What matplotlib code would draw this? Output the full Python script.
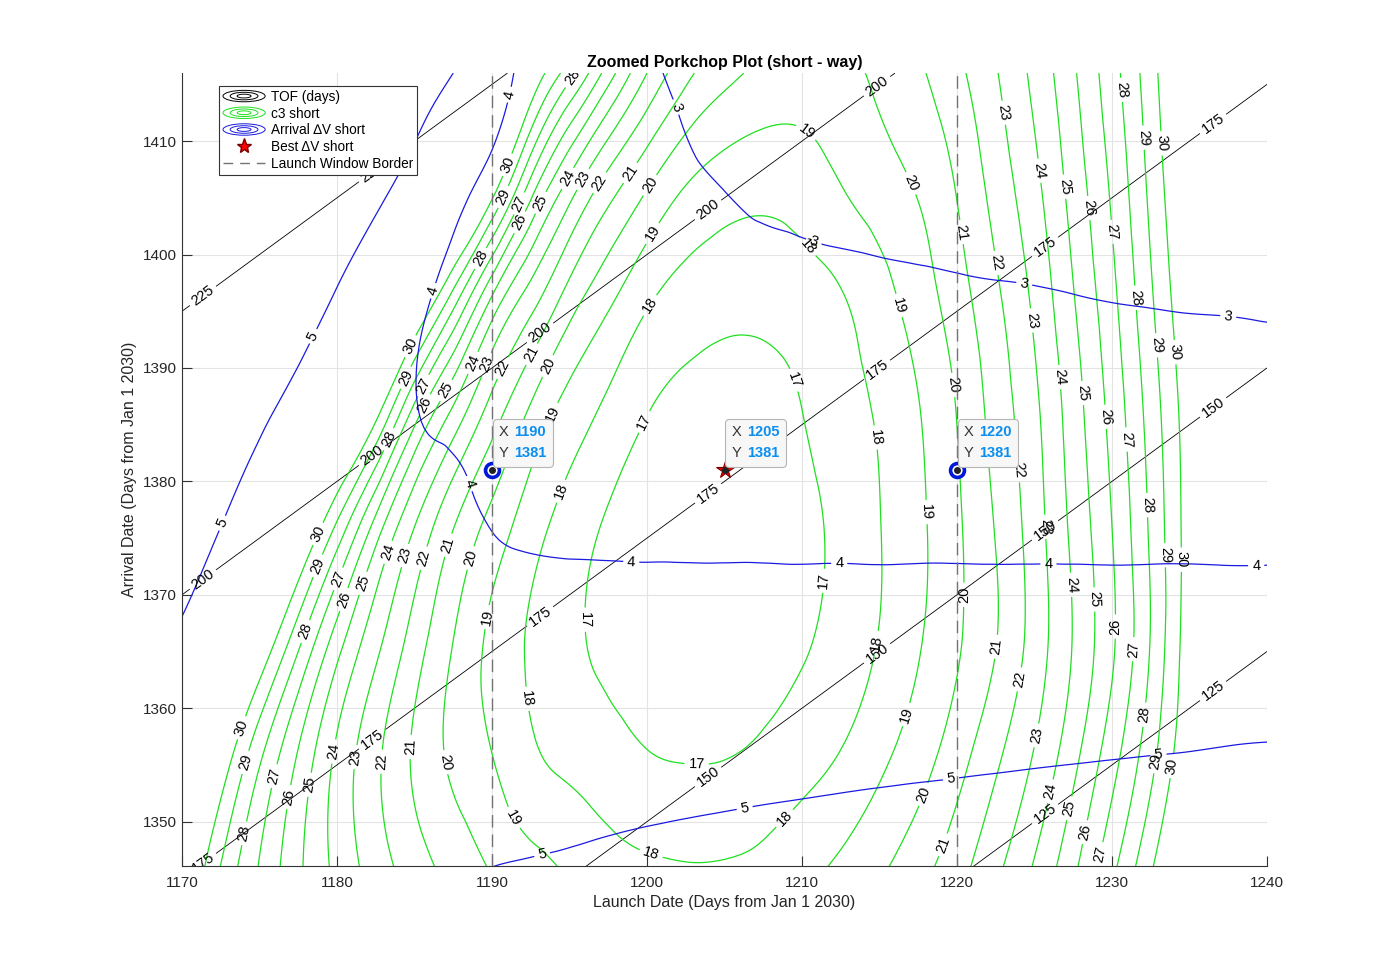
import numpy as np
import matplotlib as mpl
import matplotlib.pyplot as plt
import matplotlib.tri as mtri
from matplotlib.legend_handler import HandlerBase
from matplotlib.lines import Line2D
from matplotlib.patches import Ellipse
from matplotlib.offsetbox import TextArea, HPacker, VPacker, AnnotationBbox

mpl.rcParams['font.family'] = ['Liberation Sans', 'DejaVu Sans']

# grid nodes (days from Jan 1 2030)
launch_nodes = [1170, 1172.5, 1175, 1177.5, 1180, 1182.5, 1185, 1187.5, 1190,
                1192.5, 1195, 1197.5, 1200, 1202.5, 1205, 1207.5, 1210, 1212.5,
                1215, 1217.5, 1220, 1222.5, 1225, 1227.5, 1230, 1232.5, 1235,
                1237.5, 1240]
arrival_nodes = [1346, 1356, 1366, 1376, 1386, 1396, 1406, 1416]

# c3 (km^2/s^2), one list per arrival day
c3_1346 = [31.5, 28.96, 26.93, 25.2, 23.74, 22.5, 21.48, 20.63, 19.9, 19.36, 18.85, 18.43, 18.17, 18.06, 18.09,
           18.27, 18.65, 19.22, 19.83, 20.63, 21.59, 22.77, 24.1, 25.77, 27.75, 29.86, 32.1, 34.4, 36.6]
c3_1356 = [33.35, 30.85, 28.24, 25.93, 23.82, 22.23, 20.86, 19.79, 19.0, 18.16, 17.72, 17.37, 17.03, 16.92, 16.95,
           17.19, 17.61, 18.03, 18.74, 19.53, 20.55, 21.78, 23.06, 24.67, 26.57, 28.65, 30.95, 33.2, 35.4]
c3_1366 = [36.1, 33.6, 31.1, 28.31, 25.5, 23.32, 21.55, 20.0, 18.76, 17.88, 17.22, 16.76, 16.48, 16.35, 16.37,
           16.54, 16.86, 17.40, 18.05, 18.9, 19.87, 20.96, 22.42, 24.05, 25.84, 28.05, 30.6, 32.8, 35.0]
c3_1376 = [39.1, 36.6, 34.1, 31.6, 28.8, 25.59, 23.0, 21.04, 19.64, 18.44, 17.55, 16.88, 16.47, 16.25, 16.22,
           16.37, 16.71, 17.27, 17.97, 18.79, 19.83, 21.06, 22.52, 24.24, 26.0, 28.17, 30.5, 32.7, 34.9]
c3_1386 = [42.8, 40.3, 37.8, 35.3, 32.8, 30.35, 26.55, 23.75, 21.53, 19.81, 18.57, 17.74, 17.02, 16.65, 16.52,
           16.63, 16.99, 17.53, 18.12, 18.94, 20.03, 21.38, 22.77, 24.51, 26.32, 28.42, 30.6, 32.8, 35.0]
c3_1396 = [46.6, 44.1, 41.6, 39.1, 36.6, 34.1, 31.6, 28.48, 24.82, 22.43, 20.5, 19.19, 18.13, 17.59, 17.33,
           17.29, 17.49, 17.91, 18.62, 19.46, 20.53, 21.8, 23.2, 24.93, 26.73, 28.85, 31.0, 33.2, 35.4]
c3_1406 = [50.6, 48.1, 45.6, 43.1, 40.6, 38.1, 35.6, 33.1, 30.6, 26.6, 23.59, 21.51, 20.07, 18.98, 18.47,
           18.3, 18.47, 18.98, 19.52, 20.1, 21.07, 22.37, 23.73, 25.39, 27.16, 29.25, 31.4, 33.6, 35.8]
c3_1416 = [53.6, 51.1, 48.6, 46.1, 43.6, 41.1, 38.6, 36.1, 33.6, 31.05, 28.42, 25.52, 23.0, 21.28, 20.33,
           19.75, 19.55, 19.72, 20.19, 20.85, 21.75, 22.92, 24.26, 25.85, 27.6, 29.6, 31.8, 34.0, 36.2]

# arrival delta-V (km/s), one list per arrival day
dv_1346 = [4.75, 4.73, 4.72, 4.73, 4.75, 4.80, 4.86, 4.93, 5.00, 5.03, 5.06, 5.11, 5.15, 5.19, 5.22,
           5.26, 5.29, 5.33, 5.37, 5.39, 5.41, 5.45, 5.48, 5.52, 5.55, 5.58, 5.61, 5.65, 5.68]
dv_1356 = [4.85, 4.80, 4.75, 4.71, 4.69, 4.67, 4.66, 4.65, 4.66, 4.67, 4.69, 4.71, 4.73, 4.75, 4.77,
           4.79, 4.81, 4.83, 4.85, 4.87, 4.89, 4.91, 4.93, 4.95, 4.97, 4.99, 5.01, 5.04, 5.06]
dv_1366 = [4.97, 4.87, 4.77, 4.68, 4.60, 4.52, 4.45, 4.38, 4.33, 4.31, 4.30, 4.30, 4.30, 4.31, 4.32,
           4.32, 4.33, 4.34, 4.35, 4.36, 4.37, 4.38, 4.38, 4.39, 4.40, 4.41, 4.42, 4.42, 4.43]
dv_1376 = [5.15, 5.00, 4.86, 4.72, 4.57, 4.43, 4.28, 4.13, 3.99, 3.93, 3.91, 3.90, 3.89, 3.88, 3.87,
           3.87, 3.86, 3.86, 3.85, 3.85, 3.85, 3.84, 3.84, 3.84, 3.83, 3.83, 3.83, 3.82, 3.82]
dv_1386 = [5.55, 5.36, 5.09, 4.83, 4.57, 4.31, 4.02, 3.95, 3.92, 3.90, 3.87, 3.80, 3.73, 3.66, 3.59,
           3.57, 3.55, 3.53, 3.52, 3.50, 3.49, 3.48, 3.46, 3.45, 3.44, 3.42, 3.41, 3.39, 3.38]
dv_1396 = [6.44, 6.06, 5.69, 5.32, 4.94, 4.57, 4.13, 3.93, 3.90, 3.85, 3.78, 3.64, 3.51, 3.40, 3.29,
           3.25, 3.21, 3.18, 3.15, 3.12, 3.09, 3.07, 3.05, 3.02, 2.99, 2.97, 2.95, 2.94, 2.92]
dv_1406 = [7.0, 6.65, 6.27, 5.90, 5.52, 5.15, 4.72, 4.16, 3.93, 3.77, 3.61, 3.46, 3.30, 3.10, 2.99,
           2.90, 2.85, 2.81, 2.78, 2.76, 2.75, 2.72, 2.70, 2.68, 2.66, 2.64, 2.63, 2.61, 2.60]
dv_1416 = [7.6, 7.25, 6.87, 6.5, 6.12, 5.75, 5.37, 5.0, 4.25, 3.85, 3.62, 3.35, 3.09, 2.88, 2.78,
           2.70, 2.63, 2.57, 2.52, 2.48, 2.45, 2.42, 2.39, 2.37, 2.35, 2.33, 2.32, 2.31, 2.30]

c3_levels = list(range(17, 31))
dv_levels = [3, 4, 5]
tof_levels = [125, 150, 175, 200, 225]

border_launch = [1190, 1220]
best_launch, best_arrival = 1205, 1381
tip_launch = [1190, 1205, 1220]
tip_arrival = [1381, 1381, 1381]

# where the contour labels sit
tof_label_launch = [1171.35, 1182.26, 1193.10, 1203.94, 1214.84, 1225.68, 1236.52]
dv_label_pos = [(1201.3, 1412.7), (1210.8, 1401.3), (1224.3, 1397.1), (1237.5, 1394.4),
                (1190.8, 1414.2), (1186.45, 1396.7), (1186.7, 1379.0), (1199.0, 1373.3),
                (1212.4, 1373.1), (1225.9, 1373.1), (1239.3, 1372.9),
                (1178.6, 1392.7), (1172.8, 1376.2), (1193.2, 1347.3), (1206.3, 1351.2),
                (1219.6, 1353.9), (1233.0, 1355.9)]
c3_label_pos = [
    (1195.2, 1415.6), (1194.9, 1406.7), (1195.9, 1406.6), (1197.0, 1406.3), (1198.8, 1407.3), (1200.2, 1406.1),
    (1191.0, 1407.9), (1190.7, 1405.1), (1191.6, 1404.6), (1191.7, 1402.9), (1193.1, 1404.6), (1189.2, 1399.7),
    (1200.3, 1401.9), (1200.1, 1395.6),
    (1184.9, 1391.8), (1184.5, 1389.1), (1185.5, 1388.5), (1185.7, 1386.7), (1186.8, 1388.2), (1188.7, 1390.5),
    (1189.7, 1390.3), (1190.7, 1390.0), (1192.3, 1391.4), (1193.4, 1390.3), (1183.2, 1383.8), (1193.8, 1386.0),
    (1178.9, 1375.3), (1178.7, 1372.6), (1179.9, 1371.5), (1180.2, 1369.7), (1181.5, 1371.1), (1183.2, 1373.8),
    (1184.3, 1373.5), (1185.4, 1373.3), (1187.1, 1374.4), (1188.5, 1373.3), (1194.1, 1379.3), (1199.6, 1385.4),
    (1189.4, 1368.1),
    (1173.8, 1358.3), (1173.9, 1355.3), (1177.7, 1366.9), (1175.7, 1354.1), (1176.7, 1352.2), (1178.0, 1353.3),
    (1179.7, 1356.2), (1181.1, 1355.7), (1182.8, 1355.3), (1184.6, 1356.6), (1186.8, 1355.2), (1173.9, 1349.0),
    (1192.1, 1360.8), (1191.2, 1350.2), (1195.7, 1367.8),
    (1200.4, 1347.8), (1203.2, 1354.8), (1209.1, 1350.0),
    (1209.4, 1388.9), (1211.7, 1371.2), (1214.9, 1383.9), (1215.5, 1365.6), (1216.5, 1395.6), (1218.1, 1377.3),
    (1217.3, 1359.2), (1210.7, 1401.1), (1210.5, 1411.2),
    (1217.2, 1406.4), (1220.4, 1402.0), (1222.7, 1399.3), (1223.0, 1412.5), (1225.4, 1407.4), (1227.0, 1406.0),
    (1228.5, 1404.1), (1230.1, 1402.0), (1230.5, 1414.5), (1232.0, 1410.3), (1233.2, 1409.8), (1224.9, 1394.2),
    (1231.7, 1396.2),
    (1219.7, 1388.5), (1224.2, 1381.0), (1226.8, 1389.2), (1228.3, 1387.8), (1229.7, 1385.7), (1231.0, 1383.7),
    (1232.3, 1377.9), (1232.9, 1392.0), (1234.2, 1391.4), (1233.6, 1373.5), (1234.6, 1373.1), (1225.8, 1376.0),
    (1227.6, 1370.9), (1229.0, 1369.6), (1220.5, 1370.0),
    (1222.6, 1365.4), (1224.2, 1362.5), (1225.5, 1357.5), (1226.3, 1352.6), (1227.5, 1351.1), (1228.5, 1349.0),
    (1229.4, 1347.1), (1232.3, 1359.4), (1232.9, 1355.3), (1233.9, 1354.9), (1218.4, 1352.1), (1219.4, 1347.8),
    (1230.2, 1367.2), (1231.4, 1365.2),
]

green = '#1fe01f'
blue = '#1a1ae0'


class RingsHandler(HandlerBase):
    # matlab style legend icon for contour objects
    def create_artists(self, legend, orig_handle, xdescent, ydescent, width, height, fontsize, trans):
        cx = 0.5 * width - xdescent
        cy = 0.5 * height - ydescent
        out = []
        for k in (1.0, 0.66, 0.33):
            out.append(Ellipse((cx, cy), width * k, height * 1.2 * k, fill=False,
                               edgecolor=orig_handle.get_color(), lw=0.7, transform=trans))
        return out


def smooth_field(rows, subdiv=4, yscale=0.25):
    # refine the coarse grid with matplotlib's cubic triangle interpolator;
    # arrival axis is squeezed so the cells are square while refining
    nx, ny = len(launch_nodes), len(arrival_nodes)
    L, A = np.meshgrid(launch_nodes, arrival_nodes)
    tris = []
    for r in range(ny - 1):
        for c in range(nx - 1):
            i = r * nx + c
            tris.append([i, i + 1, i + nx + 1])
            tris.append([i, i + nx + 1, i + nx])
    tri = mtri.Triangulation(L.ravel(), A.ravel() * yscale, np.array(tris))
    z = np.asarray(rows, dtype=float).ravel()
    interp = mtri.CubicTriInterpolator(tri, z, kind='min_E')
    tri_f, z_f = mtri.UniformTriRefiner(tri).refine_field(z, triinterpolator=interp, subdiv=subdiv)
    return mtri.Triangulation(tri_f.x, tri_f.y / yscale, tri_f.triangles), z_f


fig = plt.figure(figsize=(14, 9.74), dpi=100)
ax = fig.add_axes([0.13, 0.111, 0.775, 0.814])

tri_c3, z_c3 = smooth_field([c3_1346, c3_1356, c3_1366, c3_1376, c3_1386, c3_1396, c3_1406, c3_1416])
tri_dv, z_dv = smooth_field([dv_1346, dv_1356, dv_1366, dv_1376, dv_1386, dv_1396, dv_1406, dv_1416])

# time of flight is arrival - launch
Lf, Af = np.meshgrid(np.linspace(1170, 1240, 141), np.linspace(1346, 1416, 141))
cs_tof = ax.contour(Lf, Af, Af - Lf, levels=tof_levels, colors='k', linewidths=0.6)
cs_c3 = ax.tricontour(tri_c3, z_c3, levels=c3_levels, colors=green, linewidths=0.9)
cs_dv = ax.tricontour(tri_dv, z_dv, levels=dv_levels, colors=blue, linewidths=0.9)

tof_pos = []
for lev in tof_levels:
    for x in tof_label_launch:
        if 1346.2 <= x + lev <= 1415.9:
            tof_pos.append((x, x + lev))
lab_kw = dict(inline=True, fmt='%d', fontsize=10.5, colors='k', inline_spacing=4)
ax.clabel(cs_tof, manual=tof_pos, **lab_kw)
ax.clabel(cs_c3, manual=c3_label_pos, **lab_kw)
ax.clabel(cs_dv, manual=dv_label_pos, **lab_kw)

for x in border_launch:
    ax.axvline(x, color='0.45', lw=1.0, ls=(0, (9, 5)), zorder=4)

ax.plot(best_launch, best_arrival, marker='*', ms=13, mfc='r', mec='#7a0000', mew=0.8, ls='none', zorder=6)
for x in border_launch:
    ax.plot(x, best_arrival, marker='o', ms=10, mfc='white', mec='#0018d8', mew=2.6, ls='none', zorder=6)
ax.plot(tip_launch, tip_arrival, marker='o', ms=4, color='#222222', ls='none', zorder=7)

# data tips
for x, y in zip(tip_launch, tip_arrival):
    rows = []
    for name, val in (('X', x), ('Y', y)):
        rows.append(HPacker(children=[TextArea(name, textprops=dict(color='#333333', size=10.5)),
                                      TextArea(str(val), textprops=dict(color='#0a8ef0', size=10.5,
                                                                        weight='bold'))],
                            sep=4, pad=0, align='baseline'))
    box = VPacker(children=rows, sep=5, pad=0, align='left')
    ab = AnnotationBbox(box, (x, y), xybox=(5, 7), xycoords='data', boxcoords='offset points',
                        box_alignment=(0, 0), pad=0.45, zorder=8,
                        bboxprops=dict(boxstyle='round,pad=0.45,rounding_size=0.25', fc='#f7f7f7',
                                       ec='#b5b5b5', lw=0.8))
    ax.add_artist(ab)

ax.set_xlim(1170, 1240)
ax.set_ylim(1346.1, 1416)
ax.set_xticks(range(1170, 1241, 10))
ax.set_yticks(range(1350, 1411, 10))
ax.grid(True, color='#e3e3e3', lw=0.8)
ax.set_axisbelow(True)
for s in ('top', 'right'):
    ax.spines[s].set_visible(False)
for s in ('left', 'bottom'):
    ax.spines[s].set_color('0.2')
    ax.spines[s].set_linewidth(0.8)
ax.tick_params(direction='in', length=7, width=0.8, color='0.2', labelsize=11, labelcolor='0.15')
ax.tick_params(axis='x', pad=7)
ax.tick_params(axis='y', pad=4)

ax.set_title('Zoomed Porkchop Plot (short - way)', fontsize=11.5, fontweight='bold', pad=4)
ax.set_xlabel('Launch Date (Days from Jan 1 2030)', fontsize=11.5, color='0.15', labelpad=4)
ax.set_ylabel('Arrival Date (Days from Jan 1 2030)', fontsize=11.5, color='0.15', labelpad=4)

handles = [Line2D([], [], color='k'), Line2D([], [], color=green), Line2D([], [], color=blue),
           Line2D([], [], marker='*', ms=11, mfc='r', mec='#7a0000', ls='none'),
           Line2D([], [], color='0.45', ls=(0, (7, 5)), lw=1)]
labels = ['TOF (days)', 'c3 short', 'Arrival \u2206V short', 'Best \u0394V short', 'Launch Window Border']
leg = ax.legend(handles, labels, loc='upper left', bbox_to_anchor=(0.034, 0.984), borderaxespad=0,
                fontsize=9.8, handlelength=3.1, handletextpad=0.4, labelspacing=0.2, borderpad=0.3,
                fancybox=False, framealpha=1, edgecolor='0.2',
                handler_map={handles[0]: RingsHandler(), handles[1]: RingsHandler(),
                             handles[2]: RingsHandler()})
leg.get_frame().set_linewidth(0.8)
leg.set_zorder(10)

fig.savefig('out.png', dpi=100)
